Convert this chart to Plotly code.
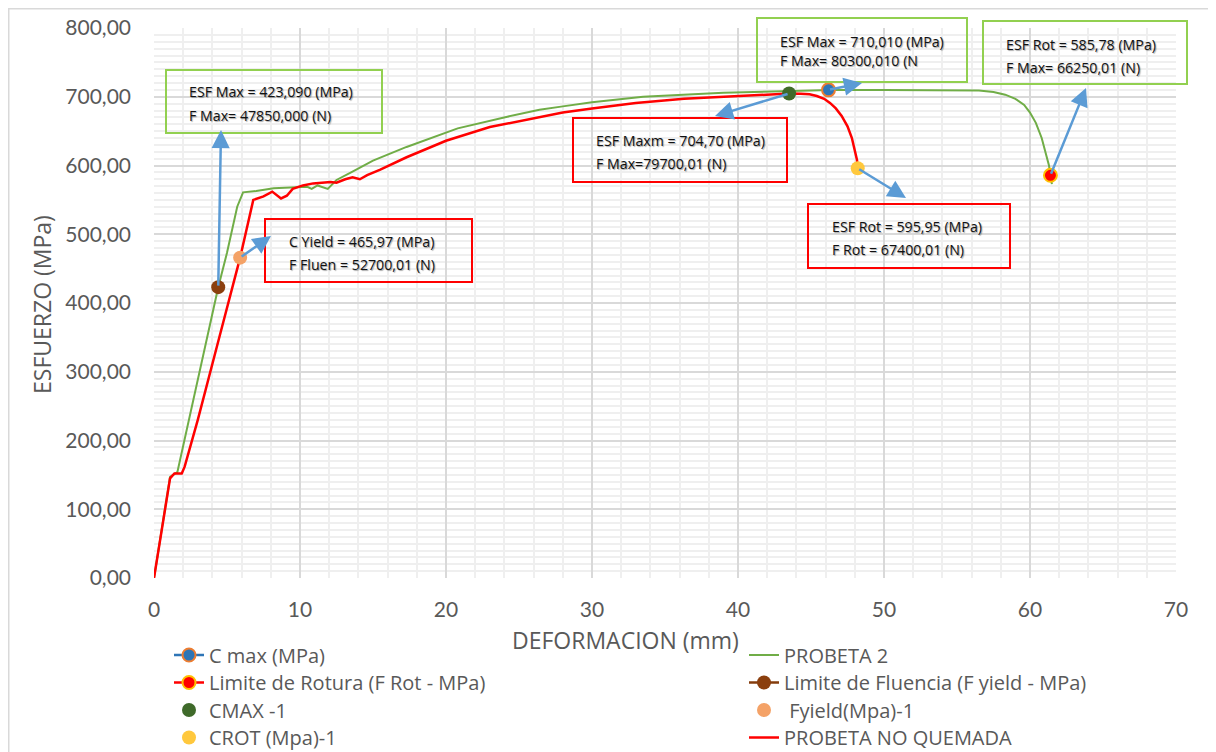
import plotly.graph_objects as go

# ---------------- DATA ----------------
# PROBETA 2 (green curve)
p2_x = [0, 1.1, 1.6, 2.5, 3.5, 4.4, 5.0, 5.7, 6.1, 7.0, 8.2, 9.5, 10.5, 10.8, 11.2, 11.9,
        12.5, 13.5, 15.0, 17.3, 20.8, 24.2, 26.4, 28.0, 30.0, 33.5, 36.0, 39.0, 43.0, 46.3,
        50.0, 55.8, 56.5, 57.5, 58.3, 59.0, 59.6, 60.0, 60.4, 60.8, 61.1, 61.3, 61.4, 61.5]
p2_y = [0, 147, 154, 240, 336, 423, 473, 540, 561, 563, 567, 568, 569, 566, 571, 566,
        579, 590, 607, 627, 654, 671, 681, 686, 692, 700, 703, 706, 708, 710,
        710, 709.6, 709, 707, 703, 697, 688, 677, 662, 640, 618, 600, 586, 573]

# PROBETA NO QUEMADA (red curve)
nq_x = [0, 1.1, 1.4, 1.9, 2.1, 3.0, 4.3, 5.9, 6.8, 7.5, 8.1, 8.4, 8.7, 9.1, 9.5, 10.2,
        10.9, 11.5, 12.1, 12.5, 13.1, 13.6, 14.1, 14.6, 15.5, 17.3, 20.0, 23.0, 26.4, 28.0,
        30.0, 33.0, 36.3, 40.0, 41.8, 43.5, 44.3, 44.9, 45.4, 45.9, 46.3, 46.7, 47.1, 47.5,
        47.8, 48.0, 48.15, 48.2]
nq_y = [0, 145, 152, 152, 162, 230, 336, 466, 550, 555, 562, 557, 552, 556, 566, 571,
        574, 575, 576, 575, 580, 583, 580, 586, 594, 612, 636, 656, 671, 677,
        683, 691, 697, 701, 703, 704.7, 704.4, 703.5, 701, 697, 691, 683, 672, 657,
        640, 624, 608, 596]

# Point series
cmax_x, cmax_y = [46.2], [710.01]        # C max (MPa)
rot_x, rot_y = [61.4], [585.78]          # Limite de Rotura
fl_x, fl_y = [4.4], [423.09]             # Limite de Fluencia
cmax1_x, cmax1_y = [43.5], [704.70]      # CMAX -1
fy1_x, fy1_y = [5.9], [465.97]           # Fyield(Mpa)-1
crot1_x, crot1_y = [48.2], [595.95]      # CROT (Mpa)-1

x_ticks = [0, 10, 20, 30, 40, 50, 60, 70]
y_ticks = [0, 100, 200, 300, 400, 500, 600, 700, 800]

box_texts = [
    ["ESF Max = 423,090 (MPa)", "F Max= 47850,000 (N)"],
    ["C Yield = 465,97 (MPa)", "F Fluen = 52700,01 (N)"],
    ["ESF Maxm = 704,70 (MPa)", "F Max=79700,01 (N)"],
    ["ESF Max = 710,010 (MPa)", "F Max= 80300,010 (N"],
    ["ESF Rot = 585,78 (MPa)", "F Max= 66250,01 (N)"],
    ["ESF Rot = 595,95 (MPa)", "F Rot = 67400,01 (N)"],
]

# ---------------- LAYOUT HELPERS ----------------
# page body has an 8px margin, so the figure is drawn at (8, 8) on screen
OFF = 8
W, H = 1216 - OFF, 752 - OFF
L, R, T, B = 154, 1176, 28, 578      # plot area in screen pixels
XMAX, YMAX = 70, 800


def pxp(xs):
    return (xs - L) / (R - L)


def pyp(ys):
    return (B - ys) / (B - T)


def dx(xs):
    return (xs - L) / (R - L) * XMAX


def dy(ys):
    return (B - ys) / (B - T) * YMAX


FONT = "Lato"
FONT2 = "Open Sans"
GREY = "#595959"
GREEN = "#70AD47"
RED = "#FF0000"
BOXGREEN = "#92D050"
ARROW = "#5B9BD5"

fig = go.Figure()

# lines
fig.add_trace(go.Scatter(x=p2_x, y=p2_y, mode="lines", name="PROBETA 2",
                         line=dict(color=GREEN, width=2), legend="legend2"))
fig.add_trace(go.Scatter(x=nq_x, y=nq_y, mode="lines", name="PROBETA NO QUEMADA",
                         line=dict(color=RED, width=2.5), legend="legend8"))

# markers
fig.add_trace(go.Scatter(x=cmax_x, y=cmax_y, mode="lines+markers", name="C max (MPa)",
                         line=dict(color="#2E75B6", width=2.5),
                         marker=dict(size=13, color="#2E75B6", line=dict(color="#ED7D31", width=2)),
                         legend="legend"))
fig.add_trace(go.Scatter(x=rot_x, y=rot_y, mode="lines+markers", name="Limite de Rotura (F Rot - MPa)",
                         line=dict(color=RED, width=2.5),
                         marker=dict(size=13, color=RED, line=dict(color="#FFC000", width=2)),
                         legend="legend3"))
fig.add_trace(go.Scatter(x=fl_x, y=fl_y, mode="lines+markers", name="Limite de Fluencia (F yield - MPa)",
                         line=dict(color="#843C0C", width=2.5),
                         marker=dict(size=14, color="#8B3F0E"),
                         legend="legend4"))
fig.add_trace(go.Scatter(x=cmax1_x, y=cmax1_y, mode="markers", name="CMAX -1",
                         marker=dict(size=14, color="#3F6A2A"),
                         legend="legend5"))
fig.add_trace(go.Scatter(x=fy1_x, y=fy1_y, mode="markers", name=" Fyield(Mpa)-1",
                         marker=dict(size=14, color="#F4A267"),
                         legend="legend6"))
fig.add_trace(go.Scatter(x=crot1_x, y=crot1_y, mode="markers", name="CROT (Mpa)-1",
                         marker=dict(size=14, color="#FFC83D"),
                         legend="legend7"))

shapes = []
annotations = []

# outer chart border
shapes.append(dict(type="rect", xref="paper", yref="paper",
                   x0=pxp(OFF + 0.75), x1=pxp(1215), y0=pyp(760), y1=pyp(OFF + 0.75),
                   line=dict(color="#D9D9D9", width=1.5), layer="below"))

# text boxes: (x0, y0, x1, y1, color, text_x, line1_y, line2_y) in screen px
boxes = [
    (166, 70, 382, 133, BOXGREEN, 187, 92, 115),
    (265, 219, 472, 282, RED, 287, 241, 264),
    (573, 118, 787, 182, RED, 594, 140, 163),
    (757, 18, 967, 82, BOXGREEN, 778, 41, 60),
    (983, 21, 1187, 84, BOXGREEN, 1004, 45, 67),
    (808, 204, 1010, 268, RED, 830, 226, 249),
]
for (x0, y0, x1, y1, col, tx, l1, l2), lines in zip(boxes, box_texts):
    shapes.append(dict(type="rect", xref="paper", yref="paper",
                       x0=pxp(x0), x1=pxp(x1), y0=pyp(y1), y1=pyp(y0),
                       line=dict(color=col, width=2), fillcolor="rgba(255,255,255,0)"))
    for txt, ly in zip(lines, (l1, l2)):
        annotations.append(dict(xref="paper", yref="paper", x=pxp(tx), y=pyp(ly),
                                xanchor="left", yanchor="middle", showarrow=False,
                                text=txt,
                                font=dict(family=FONT2, size=14.2, color="#111111",
                                          shadow="1px 1px 1px rgba(0,0,0,0.35)")))

# arrows: tail at data point, head at screen-pixel location
arrow_specs = [
    (fl_x[0], fl_y[0], 221, 130),
    (fy1_x[0], fy1_y[0], 271, 236),
    (cmax1_x[0], cmax1_y[0], 715, 116),
    (cmax_x[0], cmax_y[0], 862, 83),
    (crot1_x[0], crot1_y[0], 906, 198),
    (rot_x[0], rot_y[0], 1086, 88),
]
for tx, ty, hx, hy in arrow_specs:
    annotations.append(dict(x=dx(hx), y=dy(hy), ax=tx, ay=ty, xref="x", yref="y",
                            axref="x", ayref="y", text="", showarrow=True,
                            arrowhead=2, arrowsize=1.45, arrowwidth=2.5, arrowcolor=ARROW,
                            standoff=0, startstandoff=0))

# axis titles
annotations.append(dict(xref="paper", yref="paper", x=pxp(625), y=pyp(640),
                        text="DEFORMACION (mm)", showarrow=False, xanchor="center", yanchor="middle",
                        font=dict(family=FONT2, size=23, color=GREY)))
annotations.append(dict(xref="paper", yref="paper", x=pxp(42), y=pyp(305),
                        text="ESFUERZO (MPa)", showarrow=False, xanchor="center", yanchor="middle",
                        textangle=-90, font=dict(family=FONT2, size=23, color=GREY)))

# one legend per entry, laid out in two columns x four rows (screen px)
legend_cols = [169, 744]
legend_rows = [655, 682.5, 710, 737.5]
legend_ids = ["legend", "legend2", "legend3", "legend4",
              "legend5", "legend6", "legend7", "legend8"]
legend_layout = {}
for i, lid in enumerate(legend_ids):
    legend_layout[lid] = dict(x=pxp(legend_cols[i % 2]), y=pyp(legend_rows[i // 2]),
                              xanchor="left", yanchor="middle",
                              font=dict(family=FONT2, size=20, color=GREY),
                              bgcolor="rgba(0,0,0,0)", itemwidth=30)

fig.update_layout(
    width=W, height=H,
    margin=dict(l=L - OFF, r=W - (R - OFF), t=T - OFF, b=H - (B - OFF), autoexpand=False),
    paper_bgcolor="white", plot_bgcolor="white",
    separators=",.",
    font=dict(family=FONT, color=GREY),
    shapes=shapes, annotations=annotations,
    showlegend=True,
    **legend_layout,
)

fig.update_xaxes(range=[0, XMAX], tickvals=x_ticks, ticktext=[str(v) for v in x_ticks],
                 showgrid=True, gridcolor="#D9D9D9", gridwidth=1.5,
                 minor=dict(dtick=2, showgrid=True, gridcolor="#EFEFEF", gridwidth=1.5),
                 zeroline=False, showline=False, ticks="",
                 tickfont=dict(family=FONT, size=21, color=GREY), ticklabelstandoff=17)
fig.update_yaxes(range=[0, YMAX], tickvals=y_ticks, tickformat=".2f",
                 showgrid=True, gridcolor="#D9D9D9", gridwidth=1.5,
                 minor=dict(dtick=10, showgrid=True, gridcolor="#EFEFEF", gridwidth=1.5),
                 zeroline=False, showline=False, ticks="",
                 tickfont=dict(family=FONT, size=21, color=GREY), ticklabelstandoff=22)

fig.write_html("out.html")
